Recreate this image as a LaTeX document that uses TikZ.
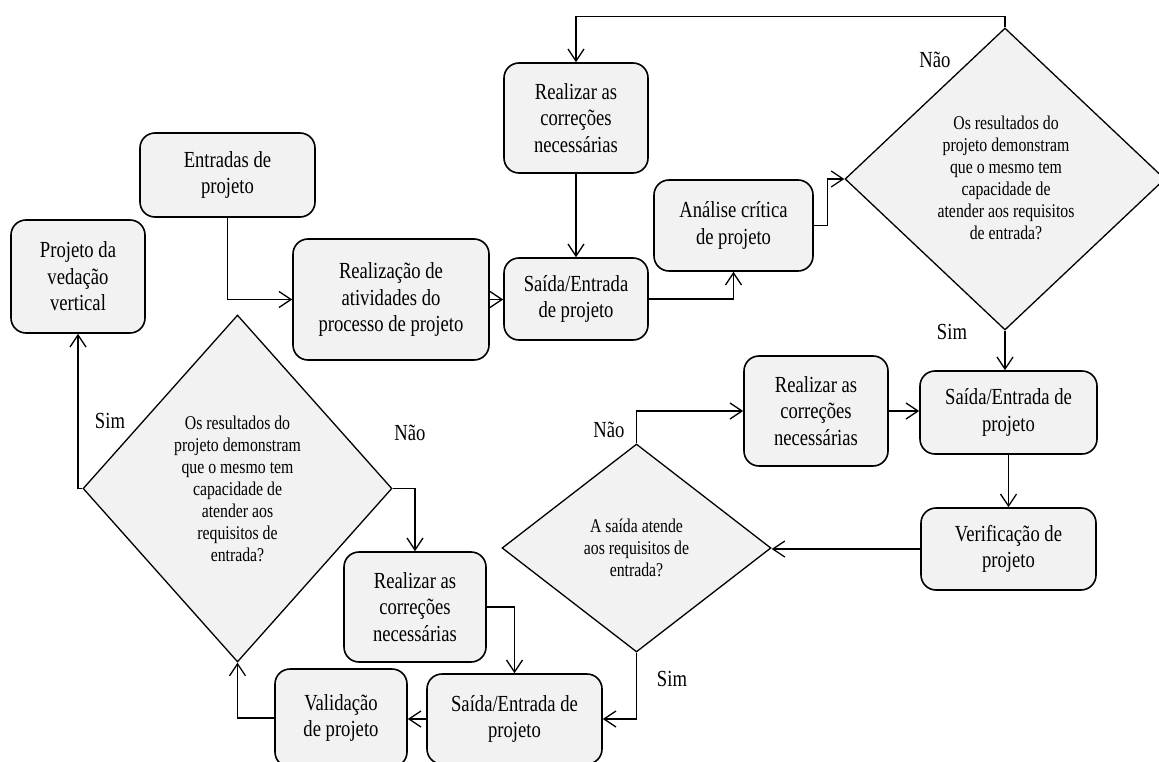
\documentclass[tikz,border=0pt]{standalone}
\usepackage{fontspec}
\usetikzlibrary{arrows.meta,shapes.geometric}
\setmainfont{Liberation Serif}
\newfontfamily\condserif[FakeStretch=0.81]{Liberation Serif}
\definecolor{boxfill}{HTML}{F2F2F2}
\begin{document}
\begin{tikzpicture}[x=1pt,y=-1pt,
  stepbox/.style={draw, line width=1.6pt, rounded corners=15pt, fill=boxfill,
    align=center, inner sep=0pt, font=\condserif\fontsize{23}{26.5}\selectfont},
  decision/.style={draw, diamond, line width=1.3pt, fill=boxfill, inner sep=0pt},
  qtext/.style={align=center, inner sep=0pt, font=\condserif\fontsize{19.5}{22}\selectfont},
  lab/.style={inner sep=0pt, font=\condserif\fontsize{23}{26.5}\selectfont},
  conn/.style={line width=1.3pt, -{Straight Barb[length=12pt,width=16pt]}}]
\useasboundingbox (0,0) rectangle (1159,762);

% process boxes
\node[stepbox, minimum width=134pt, minimum height=113pt] (pvv) at (78,276.5) {Projeto da\\vedação\\vertical};
\node[stepbox, minimum width=175pt, minimum height=84pt] (ent) at (227.5,175) {Entradas de\\projeto};
\node[stepbox, minimum width=196pt, minimum height=121pt] (real) at (391,299.5) {Realização de\\atividades do\\processo de projeto};
\node[stepbox, minimum width=144pt, minimum height=110pt] (rc1) at (576,118) {Realizar as\\correções\\necessárias};
\node[stepbox, minimum width=144pt, minimum height=82pt] (se1) at (576,299) {Saída/Entrada\\de projeto};
\node[stepbox, minimum width=159pt, minimum height=91pt] (ana) at (733.5,225.5) {Análise crítica\\de projeto};
\node[stepbox, minimum width=177pt, minimum height=83pt] (se2) at (1008.5,412.5) {Saída/Entrada de\\projeto};
\node[stepbox, minimum width=175pt, minimum height=82pt] (ver) at (1008.5,549) {Verificação de\\projeto};
\node[stepbox, minimum width=144pt, minimum height=110pt] (rc2) at (816,411) {Realizar as\\correções\\necessárias};
\node[stepbox, minimum width=175pt, minimum height=90pt] (se3) at (514.5,719) {Saída/Entrada de\\projeto};
\node[stepbox, minimum width=132pt, minimum height=98pt] (val) at (341,718) {Validação\\de projeto};
\node[stepbox, minimum width=142pt, minimum height=110pt] (rc3) at (415,607) {Realizar as\\correções\\necessárias};

% decisions
\node[decision, minimum width=320pt, minimum height=302pt] (d1) at (1005,179) {};
\node[qtext] (d1t) at (1006,178) {Os resultados do\\projeto demonstram\\que o mesmo tem\\capacidade de\\atender aos requisitos\\de entrada?};
\node[decision, minimum width=269pt, minimum height=208pt] (d2) at (636.5,548) {};
\node[qtext] (d2t) at (d2) {A saída atende\\aos requisitos de\\entrada?};
\node[decision, minimum width=309pt, minimum height=347pt] (d3) at (237.5,488.5) {};
\node[qtext] (d3t) at (d3) {Os resultados do\\projeto demonstram\\que o mesmo tem\\capacidade de\\atender aos\\requisitos de\\entrada?};

% branch labels
\node[lab] (n1) at (935,60) {Não};
\node[lab] (s1) at (952,332) {Sim};
\node[lab] (n2) at (609,430) {Não};
\node[lab] (s2) at (672,679) {Sim};
\node[lab] (s3) at (110,421) {Sim};
\node[lab] (n3) at (410,433) {Não};

% connectors
\draw[conn] (ent.south) |- (real.west);
\draw[conn] (real.east) -- (real.east -| se1.west);
\draw[conn] (rc1.south) -- (se1.north);
\draw[conn] (se1.east) -| (ana.south);
\draw[conn] (ana.east) -- ++(14,0) |- (d1.west);
\draw[conn] (d1.north) -- ++(0,-11) -| (rc1.north);
\draw[conn] (d1.south) -- (d1.south |- se2.north);
\draw[conn] (rc2.east) -- (rc2.east -| se2.west);
\draw[conn] (se2.south) -- (ver.north);
\draw[conn] (ver.west) -- (ver.west -| d2.east);
\draw[conn] (d2.north) |- (rc2.west);
\draw[conn] (d2.south) |- (se3.east);
\draw[conn] (se3.west) -- (se3.west -| val.east);
\draw[conn] (val.west) -| (d3.south);
\draw[conn] (d3.west) -| (pvv.south);
\draw[conn] (d3.east) -| (rc3.north);
\draw[conn] (rc3.east) -| (se3.north);
\end{tikzpicture}
\end{document}
